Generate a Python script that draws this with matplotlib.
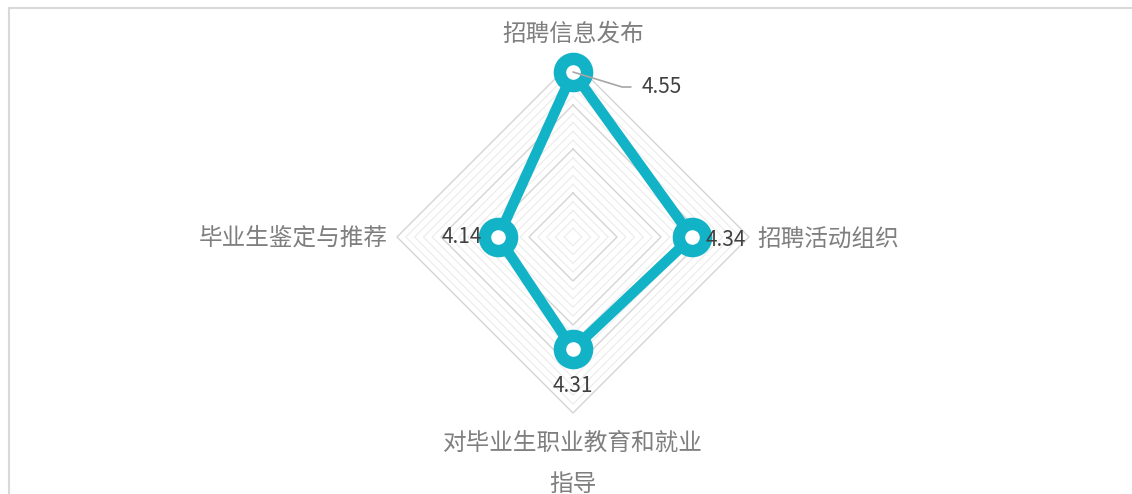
import matplotlib
matplotlib.use("Agg")
import matplotlib.pyplot as plt
import numpy as np
from matplotlib.patches import Rectangle

plt.rcParams['font.family'] = ['Noto Sans CJK SC', 'DejaVu Sans']

# data
categories = ['招聘信息发布', '招聘活动组织', '对毕业生职业教育和就业\n指导', '毕业生鉴定与推荐']
values = [4.55, 4.34, 4.31, 4.14]
r_min, r_max = 3.8, 4.6
major_step = 0.2
minor_step = 0.04

teal = '#13B3C7'
label_gray = '#7f7f7f'
value_gray = '#404040'

W, H = 1132, 494
fig = plt.figure(figsize=(W / 100, H / 100), dpi=100)

# chart border (cropped on right/bottom)
fig.add_artist(Rectangle((8.5 / W, -0.2), 1.2, (H - 8.5) / H + 0.2,
                         transform=fig.transFigure, fill=False,
                         edgecolor='#d9d9d9', linewidth=1.5))

cx, cy, R = 573, H - 237, 176
ax = fig.add_axes([(cx - R) / W, (cy - R) / H, 2 * R / W, 2 * R / H], projection='polar')
ax.set_theta_zero_location('N')
ax.set_theta_direction(-1)
ax.set_ylim(r_min, r_max)
ax.grid(False)
ax.spines['polar'].set_visible(False)
ax.set_xticks([])
ax.set_yticks([])
ax.patch.set_alpha(0)

n = len(categories)
angles = np.arange(n) * 2 * np.pi / n
ang_closed = np.append(angles, angles[0])

# diamond gridlines
levels = np.round(np.arange(r_min + minor_step, r_max + 1e-9, minor_step), 2)
for lv in levels:
    is_major = abs(lv / major_step - round(lv / major_step)) < 1e-6
    ax.plot(ang_closed, [lv] * (n + 1),
            color='#d4d4d4' if is_major else '#ebebeb',
            lw=1.0 if is_major else 0.8, zorder=1, clip_on=False)

# series
vals_closed = values + values[:1]
ax.plot(ang_closed, vals_closed, color=teal, lw=7.5, zorder=3,
        solid_joinstyle='round', clip_on=False)
ax.plot(angles, values, linestyle='none', marker='o', markersize=19.5,
        markerfacecolor='white', markeredgecolor=teal, markeredgewidth=9,
        zorder=4, clip_on=False)

# category labels (pixel offsets from outer vertex)
cat_offsets = [(0, 27, 'center', 'center'), (8, -3, 'left', 'center'),
               (0, -30, 'center', 'center'), (-9, -1, 'right', 'center')]
for ang, cat, (dx, dy, ha, va) in zip(angles, categories, cat_offsets):
    lines = cat.split('\n')
    for k, line in enumerate(lines):
        ax.annotate(line, xy=(ang, r_max), xytext=(dx, dy - 41 * k),
                    textcoords='offset pixels', ha=ha, va=va,
                    fontsize=17, color=label_gray, annotation_clip=False)

# value labels
val_offsets = [(69, -15, 'left', 'center'), (14, -3, 'left', 'center'),
               (0, -37, 'center', 'center'), (-16, 0, 'right', 'center')]
for i, (ang, v, (dx, dy, ha, va)) in enumerate(zip(angles, values, val_offsets)):
    kw = {}
    if i == 0:
        kw['arrowprops'] = dict(arrowstyle='-', color='#a6a6a6', lw=1.2,
                                shrinkA=6, shrinkB=0, relpos=(0, 0.5),
                                connectionstyle='angle,angleA=0,angleB=-17,rad=0')
    ax.annotate(f'{v:.2f}', xy=(ang, v), xytext=(dx, dy),
                textcoords='offset pixels', ha=ha, va=va, fontsize=15,
                color=value_gray, zorder=5, annotation_clip=False, **kw)

fig.savefig('out.png', dpi=100)
